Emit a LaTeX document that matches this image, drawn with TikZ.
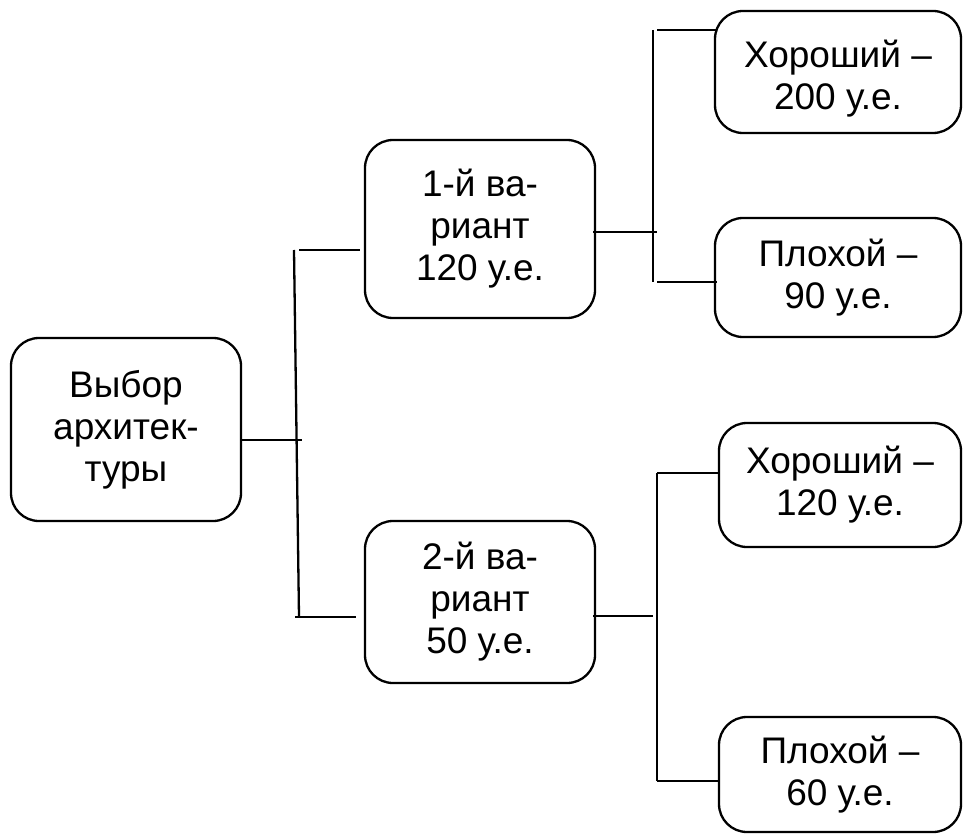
\documentclass[tikz,border=0pt]{standalone}
\usepackage{fontspec}
\setmainfont{Liberation Sans}
\begin{document}
\begin{tikzpicture}[x=1pt,y=-1pt,
  box/.style={draw=black, line width=2.3pt, rounded corners=28pt, inner sep=0pt,
    align=center, font=\fontsize{37}{42}\selectfont},
  conn/.style={draw=black, line width=2.3pt}]
\useasboundingbox (0,0) rectangle (963,834);
\node[box, minimum width=230pt, minimum height=183pt] (root) at (126,429.5) {Выбор\\архитек-\\туры};
\node[box, minimum width=230pt, minimum height=178pt] (v1) at (480,229) {1-й ва-\\риант\\120 у.е.};
\node[box, minimum width=230pt, minimum height=162pt] (v2) at (480,602) {2-й ва-\\риант\\50 у.е.};
\node[box, minimum width=246pt, minimum height=122pt] (g1) at (838,72) {\rule{0pt}{41pt}Хороший –\\200 у.е.};
\node[box, minimum width=246pt, minimum height=119pt] (b1) at (838,277.5) {Плохой –\\90 у.е.};
\node[box, minimum width=242pt, minimum height=124pt] (g2) at (840,485) {Хороший –\\120 у.е.};
\node[box, minimum width=242pt, minimum height=115pt] (b2) at (840,774.5) {Плохой –\\60 у.е.};
% bus coordinates
\coordinate (rA) at (302,440);
\coordinate (bT) at (294,250);
\coordinate (bB) at (299,617);
\coordinate (bT1) at (299,250);
\coordinate (bB1) at (295,617);
\coordinate (c1) at (657,232);
\coordinate (u1) at (653,30);
\coordinate (u2) at (653,282);
\coordinate (u1r) at (657,30);
\coordinate (u2r) at (657,282);
\coordinate (c2) at (653,616);
\coordinate (w1) at (657,473);
\coordinate (w2) at (657,781);
% connectors
\draw[conn] (root.east |- rA) -- (rA);
\draw[conn] (bT) -- (bB);
\draw[conn] (bT1) -- ([xshift=-4pt]v1.west |- bT1);
\draw[conn] (bB1) -- ([xshift=-8pt]v2.west |- bB1);
\draw[conn] ([xshift=-3pt]v1.east |- c1) -- (c1);
\draw[conn] (u1) -- (u2);
\draw[conn] (u1r) -- ([xshift=3pt]g1.west |- u1r);
\draw[conn] (u2r) -- ([xshift=3pt]b1.west |- u2r);
\draw[conn] ([xshift=-3pt]v2.east |- c2) -- (c2);
\draw[conn] (w1) -- (w2);
\draw[conn] (w1) -- (g2.west |- w1);
\draw[conn] (w2) -- (b2.west |- w2);
\end{tikzpicture}
\end{document}
